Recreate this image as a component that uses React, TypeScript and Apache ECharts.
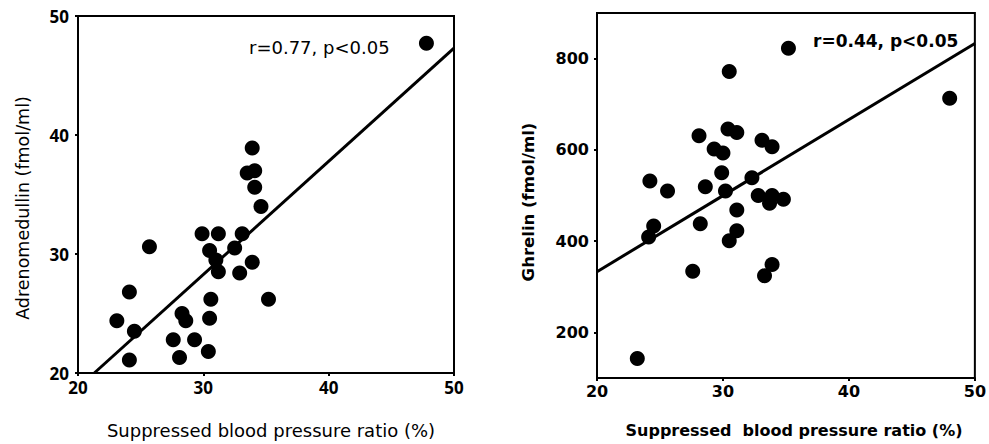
import React, { useEffect, useRef } from "react";
import * as echarts from "echarts";

// Left panel: suppressed blood pressure ratio (%) vs adrenomedullin (fmol/ml)
const adrenoX = [47.8, 33.9, 33.5, 34.1, 34.1, 34.6, 29.9, 31.2, 33.1, 30.5, 32.5, 25.7, 31.0, 31.2, 32.9, 33.9, 24.1, 35.2, 30.6, 23.1, 24.5, 28.3, 28.6, 30.5, 27.6, 29.3, 30.4, 24.1, 28.1];
const adrenoY = [47.7, 38.9, 36.8, 37.0, 35.6, 34.0, 31.7, 31.7, 31.7, 30.3, 30.5, 30.6, 29.5, 28.5, 28.4, 29.3, 26.8, 26.2, 26.2, 24.4, 23.5, 25.0, 24.4, 24.6, 22.8, 22.8, 21.8, 21.1, 21.3];
const adrenoFitX = [21.3, 50];
const adrenoFitY = [20, 47.3];

// Right panel: suppressed blood pressure ratio (%) vs ghrelin (fmol/ml)
const ghrelinX = [35.2, 30.5, 48.0, 28.1, 30.4, 31.1, 33.1, 33.9, 29.3, 30.0, 29.9, 32.3, 24.2, 28.6, 25.6, 30.2, 32.8, 33.9, 33.7, 34.8, 31.1, 28.2, 24.5, 24.1, 31.1, 30.5, 27.6, 33.9, 33.3, 23.2];
const ghrelinY = [823, 772, 713, 631, 646, 638, 621, 607, 602, 593, 550, 539, 532, 519, 510, 510, 500, 500, 483, 492, 468, 438, 433, 409, 423, 401, 334, 349, 324, 143];
const ghrelinFitX = [20, 50];
const ghrelinFitY = [333, 833];

const xTicks = [20, 30, 40, 50];
const adrenoTicks = [20, 30, 40, 50];
const ghrelinTicks = [200, 400, 600, 800];

const leftStat = "r=0.77, p<0.05";
const rightStat = "r=0.44, p<0.05";
const xTitleLeft = "Suppressed blood pressure ratio (%)";
const xTitleRight = "Suppressed  blood pressure ratio (%)";
const yTitleLeft = "Adrenomedullin (fmol/ml)";
const yTitleRight = "Ghrelin (fmol/ml)";

const zip = (a: number[], b: number[]) => a.map((v, i) => [v, b[i]]);

export default function App() {
  const ref = useRef<HTMLDivElement>(null);
  useEffect(() => {
    if (!ref.current) return;
    const chart = echarts.init(ref.current, null, { renderer: "svg" });
    const leftTickFont = "Open Sans";
    const leftFont = "DejaVu Sans";
    const rightFont = "DejaVu Sans";
    const line = { show: true, lineStyle: { color: "#000", width: 2 } };
    const tick = (vals: number[]) => ({ show: true, length: 3, lineStyle: { color: "#000", width: 2 }, customValues: vals });
    const label = (font: string, size: number, margin: number, vals: number[]) => ({
      color: "#000", fontSize: size, fontFamily: font, fontWeight: "bold", margin, customValues: vals,
    });
    chart.setOption({
      animation: false,
      backgroundColor: "#fff",
      grid: [
        { left: 78, top: 16, width: 376, height: 357, show: true, borderColor: "#000", borderWidth: 2 },
        { left: 597, top: 13, width: 380, height: 365, show: true, borderColor: "#000", borderWidth: 2 },
      ],
      xAxis: [
        {
          gridIndex: 0, type: "value", min: 20, max: 50, interval: 10,
          axisLine: line, splitLine: { show: false },
          axisTick: tick(xTicks), axisLabel: label(leftTickFont, 17, 6, xTicks),
        },
        {
          gridIndex: 1, type: "value", min: 20, max: 50, interval: 10,
          axisLine: line, splitLine: { show: false },
          axisTick: tick(xTicks), axisLabel: label(rightFont, 16, 5, xTicks),
        },
      ],
      yAxis: [
        {
          gridIndex: 0, type: "value", min: 20, max: 50, interval: 10,
          axisLine: line, splitLine: { show: false },
          axisTick: tick(adrenoTicks), axisLabel: label(leftTickFont, 17, 9, adrenoTicks),
        },
        {
          gridIndex: 1, type: "value", min: 100, max: 900, interval: 100,
          axisLine: line, splitLine: { show: false },
          axisTick: tick(ghrelinTicks), axisLabel: label(rightFont, 16, 8, ghrelinTicks),
        },
      ],
      series: [
        {
          type: "line", xAxisIndex: 0, yAxisIndex: 0, data: zip(adrenoFitX, adrenoFitY),
          symbol: "none", lineStyle: { color: "#000", width: 3 }, z: 2,
        },
        {
          type: "scatter", xAxisIndex: 0, yAxisIndex: 0, data: zip(adrenoX, adrenoY),
          symbol: "circle", symbolSize: 15, itemStyle: { color: "#000", opacity: 1 }, z: 3,
        },
        {
          type: "line", xAxisIndex: 1, yAxisIndex: 1, data: zip(ghrelinFitX, ghrelinFitY),
          symbol: "none", lineStyle: { color: "#000", width: 3 }, z: 2,
        },
        {
          type: "scatter", xAxisIndex: 1, yAxisIndex: 1, data: zip(ghrelinX, ghrelinY),
          symbol: "circle", symbolSize: 15, itemStyle: { color: "#000", opacity: 1 }, z: 3,
        },
      ],
      graphic: [
        { type: "text", x: 249, y: 47, style: { text: leftStat, fill: "#000", font: `18px '${leftFont}'`, verticalAlign: "middle", align: "left" } },
        { type: "text", x: 813, y: 41, style: { text: rightStat, fill: "#000", font: `bold 17px '${rightFont}'`, verticalAlign: "middle", align: "left" } },
        { type: "text", x: 271, y: 430, style: { text: xTitleLeft, fill: "#000", font: `18px '${leftFont}'`, verticalAlign: "middle", align: "center" } },
        { type: "text", x: 794, y: 430, style: { text: xTitleRight, fill: "#000", font: `bold 16px '${rightFont}'`, verticalAlign: "middle", align: "center" } },
        { type: "text", x: 23, y: 208, rotation: Math.PI / 2, style: { text: yTitleLeft, fill: "#000", font: `17.5px '${leftFont}'`, verticalAlign: "middle", align: "center" } },
        { type: "text", x: 528, y: 202, rotation: Math.PI / 2, style: { text: yTitleRight, fill: "#000", font: `bold 16.5px '${rightFont}'`, verticalAlign: "middle", align: "center" } },
      ],
    });
    return () => chart.dispose();
  }, []);
  return <div ref={ref} style={{ position: "fixed", left: 0, top: 0, width: 989, height: 444 }} />;
}
